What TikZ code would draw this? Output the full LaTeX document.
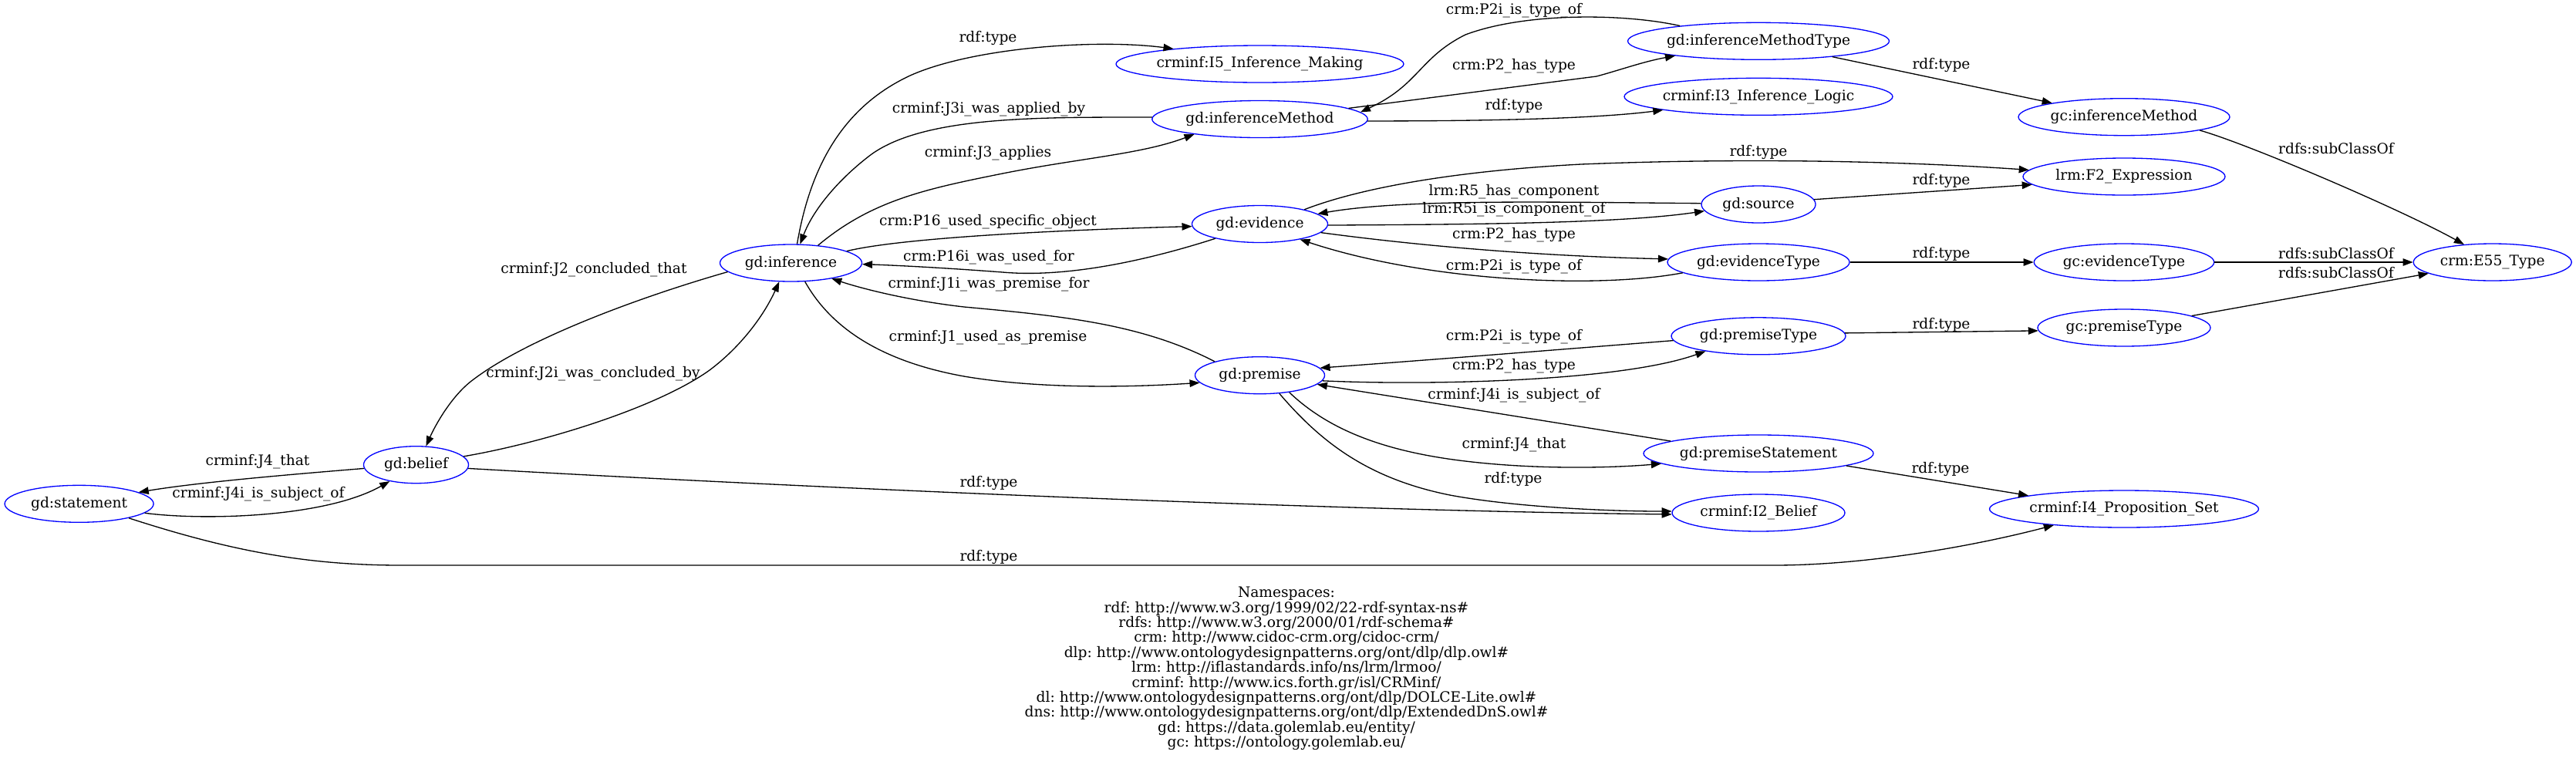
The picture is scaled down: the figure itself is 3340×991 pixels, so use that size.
\documentclass[tikz,border=0pt]{standalone}
\usepackage{fontspec}
\setmainfont{DejaVu Serif}
\usetikzlibrary{shapes.geometric,arrows.meta}
\definecolor{gvblue}{RGB}{0,0,255}
\tikzset{
  ent/.style={ellipse, draw=gvblue, line width=0.75pt, minimum height=9.6mm, inner sep=0pt},
  conn/.style={draw=black, line width=0.75pt, -{Triangle[length=2.6mm,width=1.9mm]}},
  lab/.style={inner sep=0pt},
}
\begin{document}
\frenchspacing
\begin{tikzpicture}[x=0.2mm,y=-0.2mm,font=\fontsize{10.6}{11.04}\selectfont\frenchspacing]
\useasboundingbox[fill=white] (0,0) rectangle (3340,991);
% entities
\node[ent, minimum width=74.6mm, label=center:{crminf:I5\_Inference\_Making}] (I5) at (1633.5,83) {};
\node[ent, minimum width=55.9mm, label=center:{gd:inferenceMethod}] (im) at (1633.5,154.5) {};
\node[ent, minimum width=67.8mm, label=center:{gd:inferenceMethodType}] (imt) at (2280,53.3) {};
\node[ent, minimum width=69.6mm, label=center:{crminf:I3\_Inference\_Logic}] (I3) at (2280,125.3) {};
\node[ent, minimum width=35.2mm, label=center:{gd:evidence}] (ev) at (1633.5,290.5) {};
\node[ent, minimum width=29.6mm, label=center:{gd:source}] (src) at (2280,265) {};
\node[ent, minimum width=47.2mm, label=center:{gd:evidenceType}] (evt) at (2280,340) {};
\node[ent, minimum width=45.2mm, label=center:{gd:premiseType}] (pt) at (2280,435.8) {};
\node[ent, minimum width=33.6mm, label=center:{gd:premise}] (pr) at (1633.5,486.7) {};
\node[ent, minimum width=59.6mm, label=center:{gd:premiseStatement}] (psmt) at (2280,588) {};
\node[ent, minimum width=44.8mm, label=center:{crminf:I2\_Belief}] (I2) at (2280,665) {};
\node[ent, minimum width=69.8mm, label=center:{crminf:I4\_Proposition\_Set}] (I4) at (2754,660) {};
\node[ent, minimum width=54.8mm, label=center:{gc:inferenceMethod}] (gcim) at (2754,151.7) {};
\node[ent, minimum width=52.4mm, label=center:{lrm:F2\_Expression}] (F2) at (2754,229) {};
\node[ent, minimum width=46.7mm, label=center:{gc:evidenceType}] (gcet) at (2754,340) {};
\node[ent, minimum width=41mm, label=center:{crm:E55\_Type}] (E55) at (3231.7,340) {};
\node[ent, minimum width=44.8mm, label=center:{gc:premiseType}] (gcpt) at (2754,425) {};
\node[ent, minimum width=27.2mm, label=center:{gd:belief}] (bel) at (539.5,602.7) {};
\node[ent, minimum width=38.6mm, label=center:{gd:statement}] (stm) at (102.6,653.3) {};
\node[ent, minimum width=36.8mm, label=center:{gd:inference}] (inf) at (1025.5,341) {};
% connectors
\draw[conn] (inf.72) .. controls (1050,220) and (1090,140) .. (1180,98) .. controls (1260,62) and (1420,50) .. (I5.170);
\draw[conn] (im.179) .. controls (1350,152) and (1200,150) .. (1130,200) .. controls (1090,230) and (1055,270) .. (inf.64);
\draw[conn] (inf.33) .. controls (1130,260) and (1200,245) .. (1300,225) .. controls (1400,205) and (1480,200) .. (im.193);
\draw[conn] (inf.12) .. controls (1170,308) and (1380,298) .. (ev.182);
\draw[conn] (ev.198) .. controls (1480,340) and (1380,360) .. (1300,353) .. controls (1220,347) and (1160,344) .. (inf.359);
\draw[conn] (pr.163) .. controls (1480,420) and (1380,410) .. (1250,398) .. controls (1180,390) and (1120,375) .. (inf.339);
\draw[conn] (inf.307) .. controls (1080,430) and (1150,470) .. (1250,488) .. controls (1350,505) and (1470,502) .. (pr.187);
\draw[conn] (inf.188) .. controls (830,385) and (680,440) .. (610,495) .. controls (585,515) and (565,550) .. (bel.62);
\draw[conn] (bel.10) .. controls (700,575) and (850,530) .. (920,480) .. controls (960,450) and (990,410) .. (inf.238);
\draw[conn] (bel.184) .. controls (380,615) and (260,625) .. (stm.11);
\draw[conn] (stm.352) .. controls (260,675) and (420,672) .. (bel.212);
\draw[conn] (bel.356) .. controls (1000,630) and (1700,662) .. (I2.181);
\draw[conn] (stm.344) .. controls (300,715) and (400,733) .. (520,733) -- (2300,733) .. controls (2420,733) and (2560,708) .. (I4.193);
\draw[conn] (pr.317) .. controls (1710,570) and (1770,620) .. (1880,642) .. controls (1960,657) and (2080,663) .. (I2.179);
\draw[conn] (pr.330) .. controls (1720,555) and (1790,585) .. (1900,598) .. controls (2000,610) and (2100,606) .. (psmt.186);
\draw[conn] (psmt.172) -- (pr.351);
\draw[conn] (pt.183) .. controls (2000,455) and (1850,467) .. (pr.7);
\draw[conn] (pr.355) .. controls (1850,500) and (2100,495) .. (pt.196);
\draw[conn] (pt.2) -- (gcpt.182);
\draw[conn] (gcpt.10) -- (E55.190);
\draw[conn] (gcet) -- (E55);
\draw[conn] (evt) -- (gcet);
\draw[conn] (gcim.350) .. controls (2910,185) and (3110,270) .. (E55.148);
\draw[conn] (imt.348) -- (gcim.169);
\draw[conn] (imt.169) .. controls (2110,18) and (1980,15) .. (1900,45) .. controls (1840,75) and (1840,110) .. (im.4);
\draw[conn] (im.7) -- (2070,99) .. controls (2100,91) and (2130,80) .. (imt.190);
\draw[conn] (im.359) .. controls (1900,157) and (2060,155) .. (I3.188);
\draw[conn] (ev.18) .. controls (1760,245) and (1880,222) .. (2050,213) .. controls (2250,205) and (2450,208) .. (F2.176);
\draw[conn] (src.179) .. controls (2000,262) and (1820,258) .. (ev.10);
\draw[conn] (ev.359) .. controls (1900,291) and (2100,290) .. (src.187);
\draw[conn] (src.5) -- (F2.185);
\draw[conn] (ev.352) .. controls (1850,320) and (2000,332) .. (evt.178);
\draw[conn] (evt.188) .. controls (2070,375) and (1850,365) .. (ev.339);
\draw[conn] (psmt.352) -- (I4.172);
% edge labels
\node[lab] (l1) at (1281,49) {rdf:type};
\node[lab] (l2) at (1282,142) {crminf:J3i\_was\_applied\_by};
\node[lab] (l3) at (1281,199) {crminf:J3\_applies};
\node[lab] (l4) at (1281,288) {crm:P16\_used\_specific\_object};
\node[lab] (l5) at (1282,334) {crm:P16i\_was\_used\_for};
\node[lab] (l6) at (1282,369) {crminf:J1i\_was\_premise\_for};
\node[lab] (l7) at (1281,438) {crminf:J1\_used\_as\_premise};
\node[lab] (l8) at (770,350) {crminf:J2\_concluded\_that};
\node[lab] (l9) at (769,485) {crminf:J2i\_was\_concluded\_by};
\node[lab] (l10) at (334,599) {crminf:J4\_that};
\node[lab] (l11) at (335,641) {crminf:J4i\_is\_subject\_of};
\node[lab] (l12) at (1282,626) {rdf:type};
\node[lab] (l13) at (1282,722) {rdf:type};
\node[lab] (l14) at (1962,621) {rdf:type};
\node[lab] (l15) at (1963,577) {crminf:J4\_that};
\node[lab] (l16) at (1963,513) {crminf:J4i\_is\_subject\_of};
\node[lab] (l17) at (1963,437) {crm:P2i\_is\_type\_of};
\node[lab] (l18) at (1963,475) {crm:P2\_has\_type};
\node[lab] (l19) at (2517,421) {rdf:type};
\node[lab] (l20) at (3029,354) {rdfs:subClassOf};
\node[lab] (l21) at (3029,329) {rdfs:subClassOf};
\node[lab] (l22) at (2517,329) {rdf:type};
\node[lab] (l23) at (3029,193) {rdfs:subClassOf};
\node[lab] (l24) at (2517,84) {rdf:type};
\node[lab] (l25) at (1963,14) {crm:P2i\_is\_type\_of};
\node[lab] (l26) at (1963,86) {crm:P2\_has\_type};
\node[lab] (l27) at (1963,137) {rdf:type};
\node[lab] (l28) at (2280,197) {rdf:type};
\node[lab] (l29) at (1963,249) {lrm:R5\_has\_component};
\node[lab] (l30) at (1963,272) {lrm:R5i\_is\_component\_of};
\node[lab] (l31) at (2517,234) {rdf:type};
\node[lab] (l32) at (1963,305) {crm:P2\_has\_type};
\node[lab] (l33) at (1963,346) {crm:P2i\_is\_type\_of};
\node[lab] (l34) at (2516,608) {rdf:type};
% namespaces
\node[lab, align=center] (ns) at (1668,867) {Namespaces:\\
rdf: http://www.w3.org/1999/02/22-rdf-syntax-ns\#\\
rdfs: http://www.w3.org/2000/01/rdf-schema\#\\
crm: http://www.cidoc-crm.org/cidoc-crm/\\
dlp: http://www.ontologydesignpatterns.org/ont/dlp/dlp.owl\#\\
lrm: http://iflastandards.info/ns/lrm/lrmoo/\\
crminf: http://www.ics.forth.gr/isl/CRMinf/\\
dl: http://www.ontologydesignpatterns.org/ont/dlp/DOLCE-Lite.owl\#\\
dns: http://www.ontologydesignpatterns.org/ont/dlp/ExtendedDnS.owl\#\\
gd: https://data.golemlab.eu/entity/\\
gc: https://ontology.golemlab.eu/};
\end{tikzpicture}
\end{document}
